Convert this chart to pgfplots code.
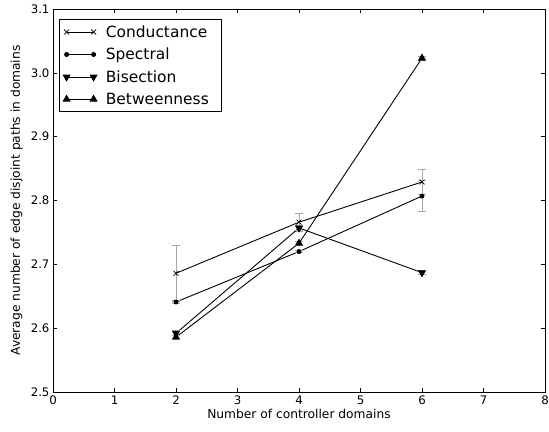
\documentclass[border=0pt]{standalone}
\usepackage{pgfplots}
\pgfplotsset{compat=1.18}
\usepackage{fontspec}
\setmainfont{DejaVu Sans}
\begin{document}
\begin{tikzpicture}[x=1bp,y=1bp]
\useasboundingbox (0,0) rectangle (549,431);
\begin{axis}[
  at={(53bp,39bp)}, anchor=south west,
  scale only axis, width=492bp, height=383bp,
  xmin=0, xmax=8, ymin=2.5, ymax=3.1,
  xtick={0,1,...,8},
  ytick={2.5,2.6,2.7,2.8,2.9,3.0,3.1},
  tick align=inside, tick pos=both,
  major tick length=4bp,
  tick style={black, line width=0.5pt},
  axis line style={line width=0.8pt},
  /pgf/number format/assume math mode=true,
  yticklabel style={/pgf/number format/.cd, fixed, fixed zerofill, precision=1},
  ticklabel style={font=\fontsize{11.8}{13}\selectfont},
  label style={font=\fontsize{12.3}{14}\selectfont},
  xlabel={Number of controller domains},
  ylabel={Average number of edge disjoint paths in domains},
  xlabel style={at={(axis description cs:0.5,0)}, anchor=north, yshift=-14bp},
  ylabel style={at={(axis description cs:0,0.5)}, anchor=south, yshift=27bp},
  legend style={at={(axis description cs:0.012,0.974)}, anchor=north west,
    draw=black, line width=0.8pt, font=\fontsize{15.5}{17}\selectfont,
    row sep=5.3bp, inner xsep=4bp, inner ysep=4bp,
    nodes={inner xsep=9bp}},
  legend cell align=left,
  legend image code/.code={\draw[#1] plot coordinates {(0bp,0bp) (27bp,0bp)};},
  error bars/error bar style={gray!70, line width=0.9pt},
  error bars/error mark options={rotate=90, mark size=4bp, gray!70, line width=0.9pt},
]
\addplot[black, line width=0.9pt, mark=x, mark size=3.5bp, mark options={solid, black, line width=0.7pt},
  error bars/.cd, y dir=both, y explicit]
  coordinates {(2,2.686) +- (0,0.044) (4,2.766) +- (0,0.014) (6,2.829) +- (0,0.019)};
\addlegendentry{Conductance}
\addplot[black, line width=0.9pt, mark=*, mark size=2bp, mark options={solid, fill=black, black},
  error bars/.cd, y dir=both, y explicit]
  coordinates {(2,2.641) +- (0,0.002) (4,2.720) +- (0,0.002) (6,2.807) +- (0,0.024)};
\addlegendentry{Spectral}
\addplot[black, line width=0.9pt, mark=triangle*, mark size=3.8bp, mark options={solid, fill=black, black, rotate=180},
  error bars/.cd, y dir=both, y explicit]
  coordinates {(2,2.592) +- (0,0.004) (4,2.757) +- (0,0.004) (6,2.687) +- (0,0.003)};
\addlegendentry{Bisection}
\addplot[black, line width=0.9pt, mark=triangle*, mark size=3.8bp, mark options={solid, fill=black, black},
  error bars/.cd, y dir=both, y explicit]
  coordinates {(2,2.586) +- (0,0.003) (4,2.733) +- (0,0.003) (6,3.023) +- (0,0.003)};
\addlegendentry{Betweenness}
\end{axis}
\end{tikzpicture}
\end{document}
